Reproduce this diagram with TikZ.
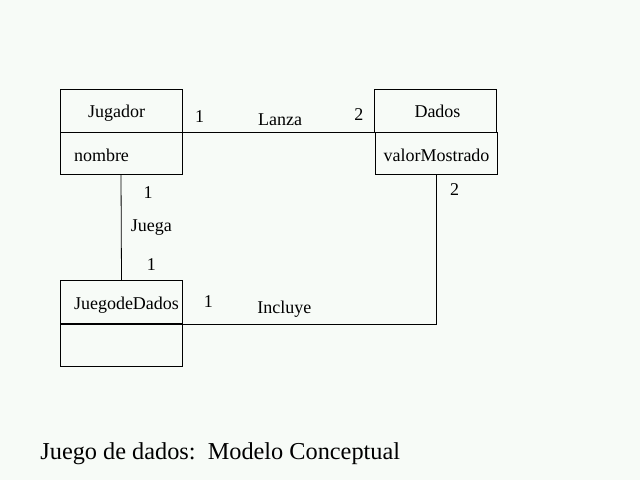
\documentclass[tikz,border=0pt]{standalone}
\usepackage{fontspec}
\setmainfont{Liberation Serif}
\definecolor{paper}{RGB}{247,251,247}

\tikzstyle{classname} = [draw,rectangle,minimum width=122pt,minimum height=43pt,inner sep=0pt,text height=14pt,text depth=0pt,font=\fontsize{18}{21}\selectfont]
\tikzstyle{classattr} = [classname,minimum height=42pt,text height=16pt]
\tikzstyle{edgelabel} = [font=\fontsize{18}{21}\selectfont]

\begin{document}
\begin{tikzpicture}[x=1pt,y=-1pt,line width=0.8pt]
	\path[fill=paper,use as bounding box] (0,0) rectangle (640,480);
	\node[classname] (jugador) at (121,110.5) {\hspace{-9pt}Jugador};
	\node[classattr,text width=94pt,align=left] (jugadorattr) at (121,153) {nombre};
	\node[classname] (dados) at (435.5,110.5) {\hspace{4pt}Dados};
	\node[classattr] (dadosattr) at (436.5,153) {valorMostrado};
	\node[classname] (juegodedados) at (121.5,302) {\hspace{10pt}JuegodeDados};
	\node[classattr] (juegodedadosattr) at (121.5,345) {};
	\draw (jugador.south east) --
		node[edgelabel,pos=.09,yshift=16pt]{1}
		node[edgelabel,pos=.51,yshift=13pt]{Lanza}
		node[edgelabel,pos=.92,yshift=18pt]{2} (dados.south west);
	\draw (jugadorattr.south) --
		node[edgelabel,pos=.17,xshift=27pt]{1}
		node[edgelabel,pos=.5,xshift=30pt]{Juega}
		node[edgelabel,pos=.85,xshift=30pt]{1} (juegodedados.north);
	\draw (dadosattr.south) |-
		node[edgelabel,pos=.05,xshift=18pt]{2}
		node[edgelabel,pos=.8,yshift=15pt]{Incluye}
		node[edgelabel,pos=.95,yshift=22pt]{1} (juegodedados.south east);
	\node[anchor=base west,inner sep=0pt,font=\fontsize{24.3}{28}\selectfont] (titulo) at (40,459)
		{Juego de dados:\ \ Modelo Conceptual};
\end{tikzpicture}
\end{document}
